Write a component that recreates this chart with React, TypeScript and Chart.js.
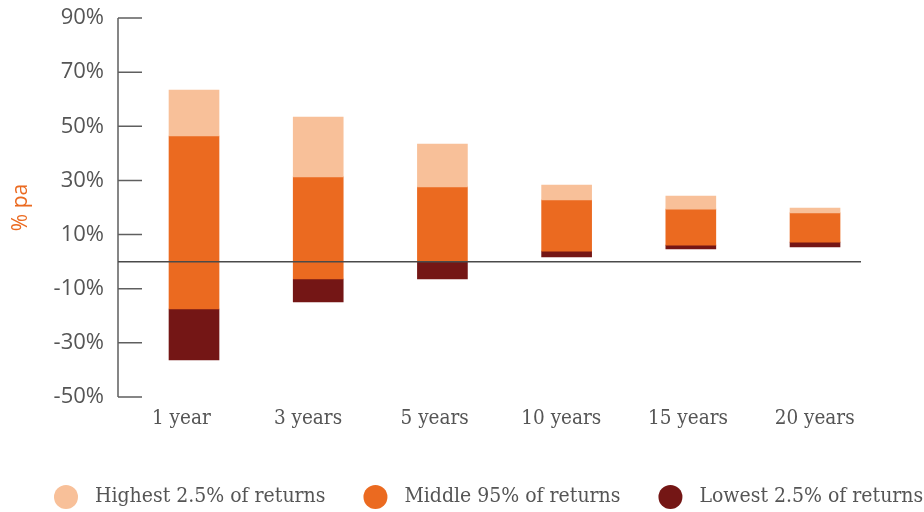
import React, { useEffect, useRef } from 'react';
import { Chart, registerables } from 'chart.js';

Chart.register(...registerables);

const categories = ['1 year', '3 years', '5 years', '10 years', '15 years', '20 years'];
// Boundaries of each band (% pa)
const topValues = [63.4, 53.4, 43.4, 28.3, 24.2, 19.8];
const upperValues = [46.4, 31.3, 27.6, 22.8, 19.4, 18.0];
const lowerValues = [-17.5, -6.4, 0, 3.9, 6.1, 7.2];
const bottomValues = [-36.3, -14.9, -6.4, 1.7, 4.7, 5.4];

const yTicks = [-50, -30, -10, 10, 30, 50, 70, 90];
const seriesLabels = ['Highest 2.5% of returns', 'Middle 95% of returns', 'Lowest 2.5% of returns'];
const seriesColors = ['#f8c099', '#eb6a20', '#741615'];

const SANS = '"Open Sans", "DejaVu Sans", sans-serif';
const SERIF = '"DejaVu Serif Condensed", "DejaVu Serif", serif';

const decoPlugin = {
  id: 'deco',
  afterDatasetsDraw(chart: any) {
    const { ctx, chartArea, scales } = chart;
    const y = scales.y;
    const left = chartArea.left;
    ctx.save();
    ctx.strokeStyle = '#5f5f5f';
    ctx.lineWidth = 1.5;
    ctx.beginPath();
    ctx.moveTo(left, y.getPixelForValue(yTicks[yTicks.length - 1]));
    ctx.lineTo(left, y.getPixelForValue(yTicks[0]));
    yTicks.forEach((v) => {
      const py = y.getPixelForValue(v);
      ctx.moveTo(left, py);
      ctx.lineTo(left + 24, py);
    });
    ctx.stroke();
    ctx.strokeStyle = '#4a4a4a';
    ctx.lineWidth = 1.5;
    ctx.beginPath();
    const zy = y.getPixelForValue(0);
    ctx.moveTo(left, zy);
    ctx.lineTo(chartArea.right - 17, zy);
    ctx.stroke();
    ctx.restore();
  },
  afterDraw(chart: any) {
    const { ctx } = chart;
    ctx.save();
    ctx.font = '21px ' + SERIF;
    ctx.textBaseline = 'middle';
    ctx.textAlign = 'left';
    let x = 54;
    const cy = 497;
    seriesLabels.forEach((label, i) => {
      ctx.fillStyle = seriesColors[i];
      ctx.beginPath();
      ctx.arc(x + 12, cy, 12, 0, Math.PI * 2);
      ctx.fill();
      ctx.fillStyle = '#555';
      ctx.fillText(label, x + 41, cy);
      x += 41 + ctx.measureText(label).width + 38;
    });
    ctx.restore();
  },
};

export default function App() {
  const ref = useRef<HTMLCanvasElement>(null);
  useEffect(() => {
    document.body.style.margin = '0';
    const datasets = [
      { data: categories.map((_, i) => ({ x: i, y: [upperValues[i], topValues[i]] })) },
      { data: categories.map((_, i) => ({ x: i, y: [lowerValues[i], upperValues[i]] })) },
      { data: categories.map((_, i) => ({ x: i, y: [bottomValues[i], lowerValues[i]] })) },
    ].map((d, i) => ({
      ...d,
      label: seriesLabels[i],
      backgroundColor: seriesColors[i],
      borderWidth: 0,
      barThickness: 50,
      grouped: false,
      xAxisID: 'xb',
    }));
    const chart = new Chart(ref.current!, {
      type: 'bar',
      data: { labels: categories, datasets } as any,
      plugins: [decoPlugin],
      options: {
        animation: false,
        responsive: true,
        maintainAspectRatio: false,
        layout: { padding: { left: 0, right: 46, top: 18, bottom: 58 } },
        plugins: { legend: { display: false }, tooltip: { enabled: false } },
        scales: {
          xb: {
            type: 'linear',
            display: false,
            offset: false,
            min: -0.612,
            max: 5.507,
            grid: { display: false, offset: false },
          },
          x: {
            type: 'category',
            position: 'bottom',
            offset: true,
            grid: { display: false, drawTicks: false },
            border: { display: false },
            afterFit: (s: any) => {
              s.height = 512 - 397 - 58;
              s.paddingLeft = 0;
              s.paddingRight = 0;
            },
            ticks: {
              autoSkip: false,
              maxRotation: 0,
              padding: 9,
              color: '#555',
              font: { family: SERIF, size: 20.5 },
            },
          },
          y: {
            min: -50,
            max: 90,
            grid: { display: false, drawTicks: false },
            border: { display: false },
            afterBuildTicks: (s: any) => {
              s.ticks = yTicks.map((v) => ({ value: v }));
            },
            afterFit: (s: any) => {
              s.width = 118;
              s.paddingTop = 0;
              s.paddingBottom = 0;
            },
            ticks: {
              padding: 14,
              color: '#555',
              font: { family: SANS, size: 22 },
              callback: (v: any) => v + '%',
            },
            title: {
              display: true,
              text: '% pa',
              color: '#eb6a20',
              font: { family: SANS, size: 21 },
              padding: { top: 8, bottom: 0 },
            },
          },
        },
      } as any,
    });
    return () => chart.destroy();
  }, []);
  return (
    <div style={{ width: 924, height: 512, position: 'relative' }}>
      <canvas ref={ref} />
    </div>
  );
}
